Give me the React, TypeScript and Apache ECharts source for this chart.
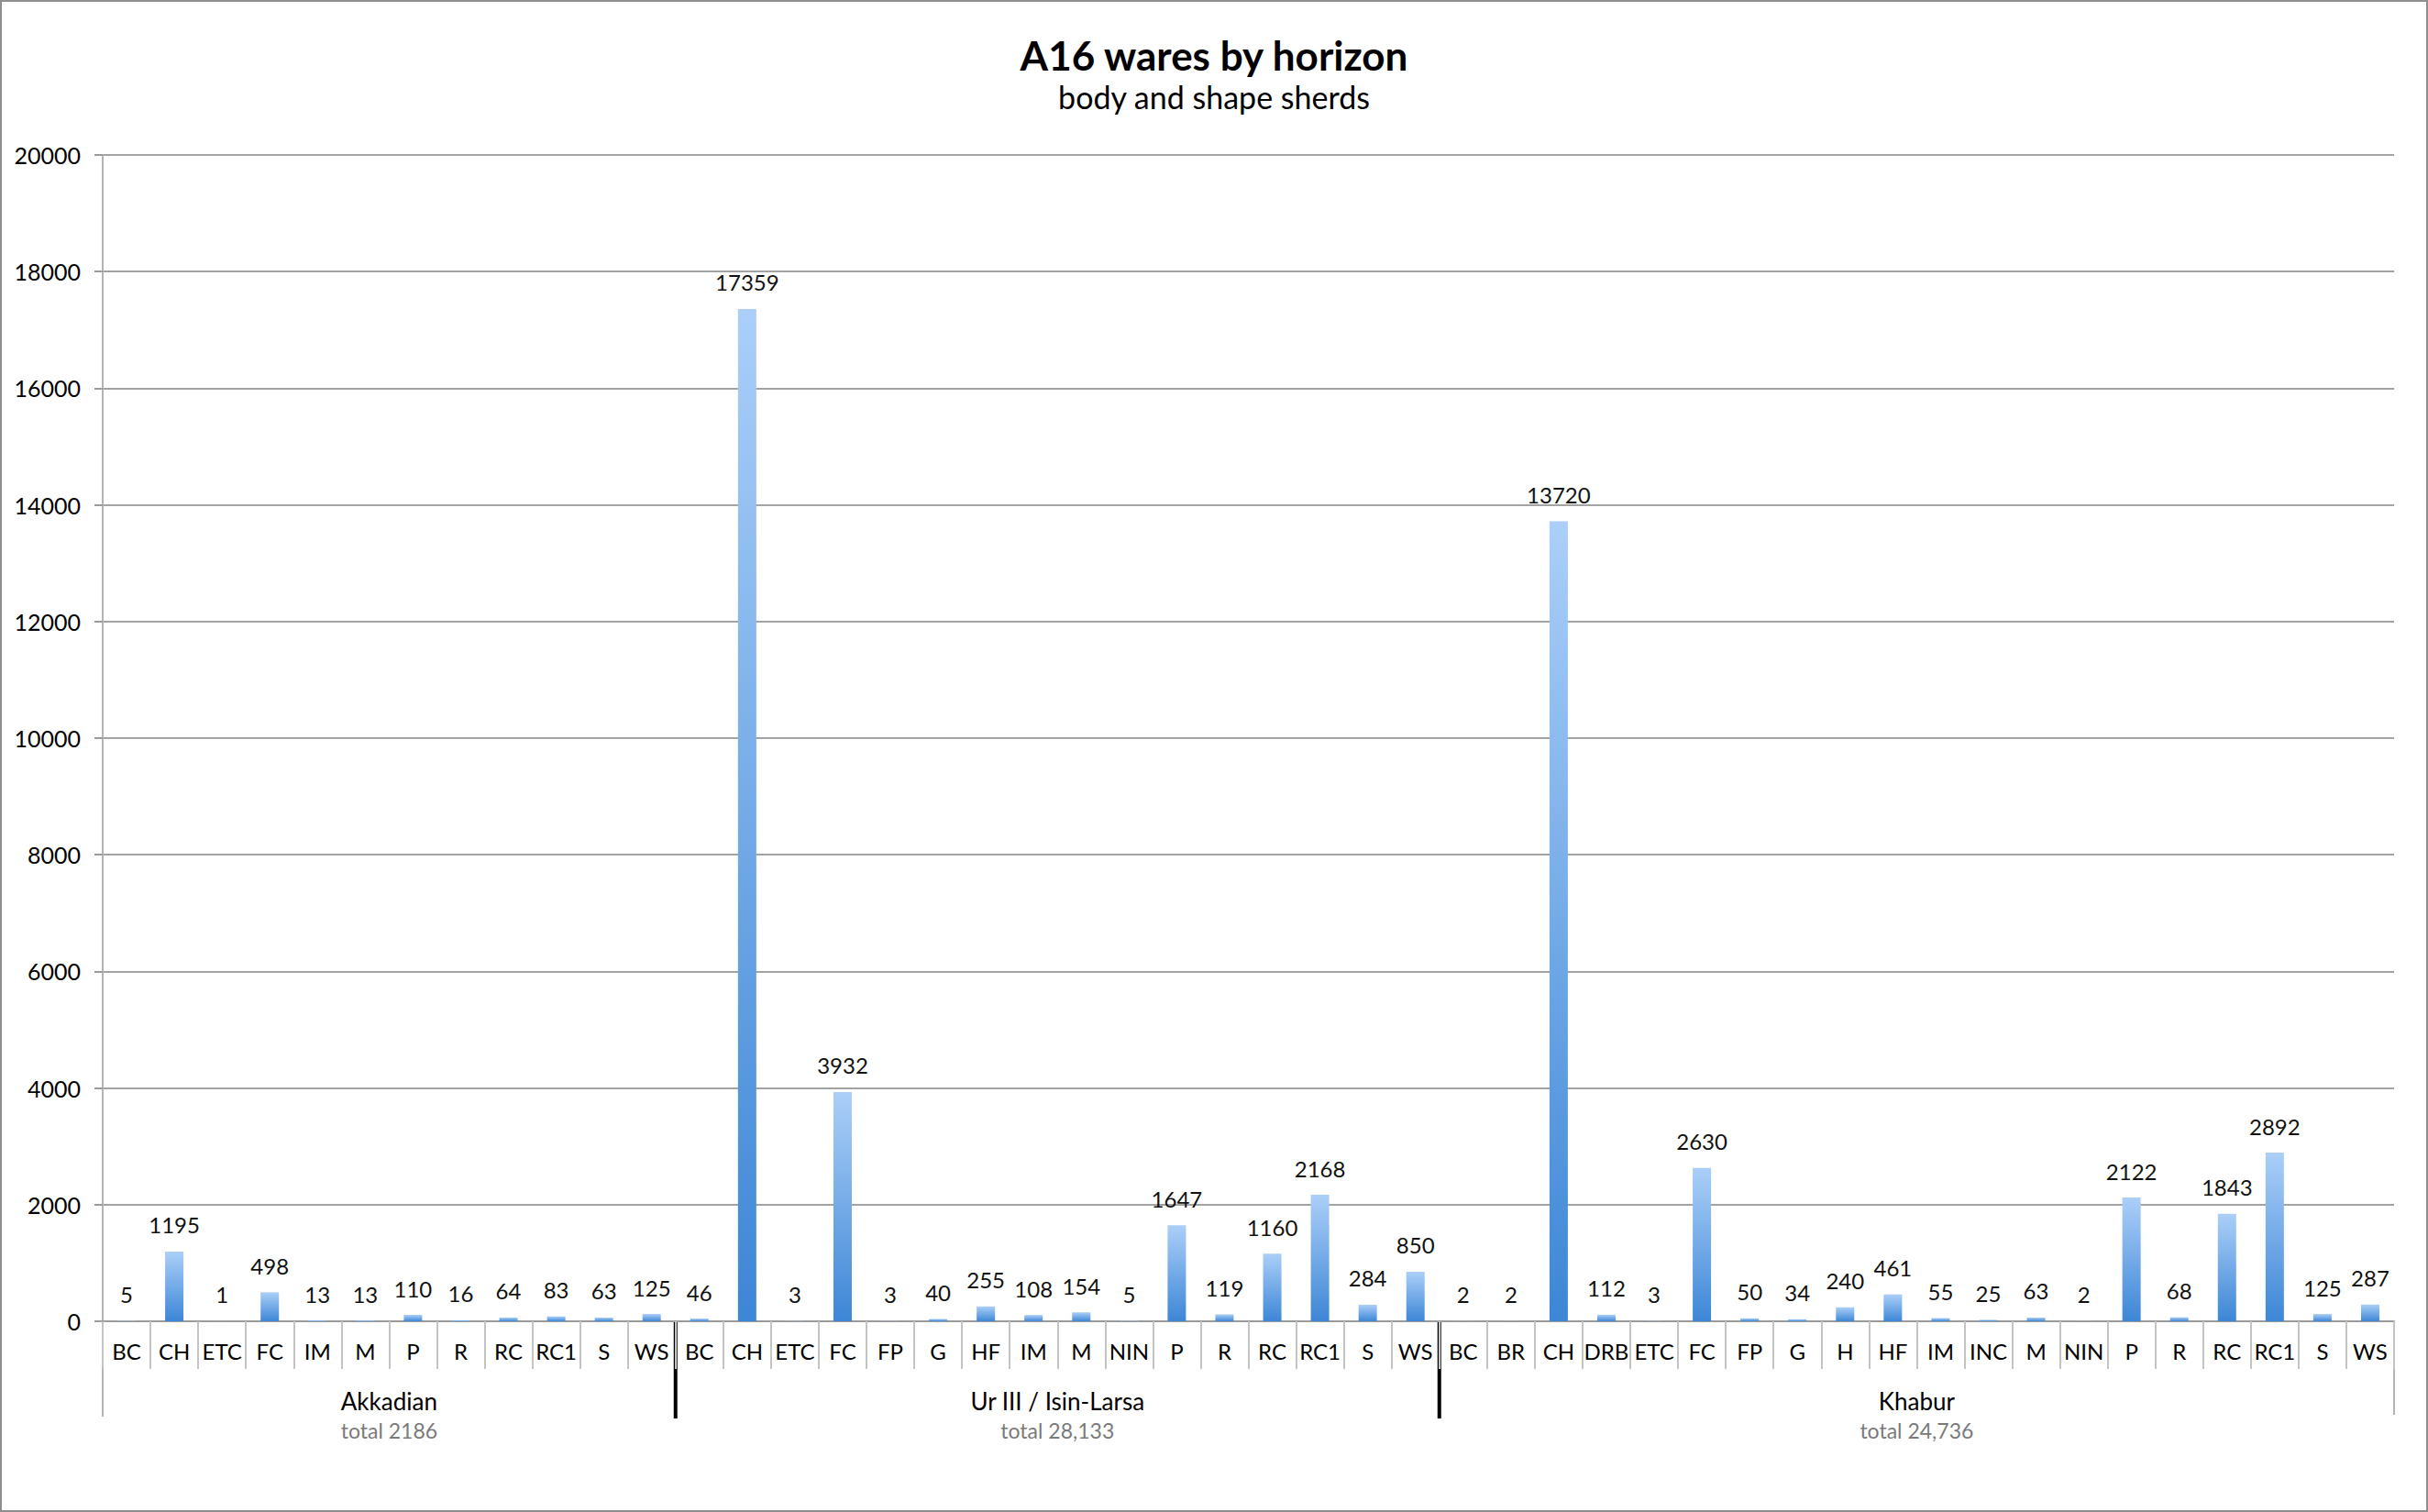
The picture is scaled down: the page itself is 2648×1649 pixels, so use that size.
import React, { useEffect, useRef } from "react";
import * as echarts from "echarts";

const akkadianWares = ["BC", "CH", "ETC", "FC", "IM", "M", "P", "R", "RC", "RC1", "S", "WS"];
const akkadianCounts = [5, 1195, 1, 498, 13, 13, 110, 16, 64, 83, 63, 125];

const urWares = ["BC", "CH", "ETC", "FC", "FP", "G", "HF", "IM", "M", "NIN", "P", "R", "RC", "RC1", "S", "WS"];
const urCounts = [46, 17359, 3, 3932, 3, 40, 255, 108, 154, 5, 1647, 119, 1160, 2168, 284, 850];

const khaburWares = ["BC", "BR", "CH", "DRB", "ETC", "FC", "FP", "G", "H", "HF", "IM", "INC", "M", "NIN", "P", "R", "RC", "RC1", "S", "WS"];
const khaburCounts = [2, 2, 13720, 112, 3, 2630, 50, 34, 240, 461, 55, 25, 63, 2, 2122, 68, 1843, 2892, 125, 287];

const horizonNames = ["Akkadian", "Ur III / Isin-Larsa", "Khabur"];
const horizonTotals = ["total 2186", "total 28,133", "total 24,736"];

const yMin = 0;
const yMax = 20000;
const yInterval = 2000;

const FONT = "Lato, 'Open Sans', sans-serif";

export default function App() {
  const ref = useRef<HTMLDivElement>(null);

  useEffect(() => {
    if (!ref.current) return;
    const chart = echarts.init(ref.current, null, { renderer: "svg" });
    const categories = [...akkadianWares, ...urWares, ...khaburWares];
    const values = [...akkadianCounts, ...urCounts, ...khaburCounts];
    const groupSizes = [akkadianWares.length, urWares.length, khaburWares.length];

    const option: any = {
      animation: false,
      backgroundColor: "#ffffff",
      textStyle: { fontFamily: FONT },
      title: {
        text: "A16 wares by horizon",
        subtext: "body and shape sherds",
        left: "center",
        top: 33,
        itemGap: 6,
        textStyle: { fontFamily: FONT, fontSize: 44, fontWeight: "bold", color: "#000" },
        subtextStyle: { fontFamily: FONT, fontSize: 34, color: "#000" },
      },
      grid: { left: 112, right: 37, top: 169, bottom: 208 },
      xAxis: {
        type: "category",
        data: categories,
        boundaryGap: true,
        axisLine: { show: true, lineStyle: { color: "#9a9a9a", width: 2 } },
        axisTick: { show: true, interval: 0, length: 52, lineStyle: { color: "#c4c4c4", width: 2 } },
        axisLabel: { interval: 0, margin: 20, fontSize: 24, color: "#000", fontFamily: FONT },
        splitLine: { show: false },
      },
      yAxis: {
        type: "value",
        min: yMin,
        max: yMax,
        interval: yInterval,
        axisLine: { show: true, lineStyle: { color: "#b4b4b4", width: 2 } },
        axisTick: { show: true, length: 9, lineStyle: { color: "#9a9a9a", width: 2 } },
        axisLabel: {
          fontSize: 25,
          color: "#000",
          margin: 24,
          fontFamily: FONT,
          formatter: (v: number) => String(v),
        },
        splitLine: { show: true, lineStyle: { color: "#a3a3a3", width: 2 } },
      },
      series: [
        {
          type: "bar",
          data: values,
          barWidth: 20,
          itemStyle: {
            color: new echarts.graphic.LinearGradient(0, 0, 0, 1, [
              { offset: 0, color: "#abcff8" },
              { offset: 1, color: "#3d86d6" },
            ]),
          },
          label: {
            show: true,
            position: "top",
            distance: 17,
            fontSize: 24,
            color: "#111",
            fontFamily: FONT,
          },
        },
      ],
    };
    chart.setOption(option);

    const c0 = chart.convertToPixel({ xAxisIndex: 0 }, 0) as number;
    const c1 = chart.convertToPixel({ xAxisIndex: 0 }, 1) as number;
    const w = c1 - c0;
    const edge = (i: number) => c0 - w / 2 + i * w;
    const y0 = chart.convertToPixel({ yAxisIndex: 0 }, 0) as number;
    const yTop = chart.convertToPixel({ yAxisIndex: 0 }, yMax) as number;
    const lineBottom = y0 + 104;

    const graphics: any[] = [
      {
        type: "rect",
        shape: { x: 1, y: 1, width: 2646, height: 1647 },
        style: { fill: "none", stroke: "#8e8e8e", lineWidth: 2 },
        silent: true,
      },
      {
        type: "line",
        shape: { x1: edge(0), y1: yTop, x2: edge(0), y2: lineBottom },
        style: { stroke: "#b4b4b4", lineWidth: 2 },
      },
      {
        type: "line",
        shape: { x1: edge(categories.length), y1: y0, x2: edge(categories.length), y2: lineBottom - 2 },
        style: { stroke: "#b4b4b4", lineWidth: 2 },
      },
    ];
    let start = 0;
    groupSizes.forEach((size, g) => {
      const end = start + size;
      if (g > 0) {
        graphics.push({
          type: "line",
          shape: { x1: edge(start), y1: y0 + 1, x2: edge(start), y2: lineBottom + 2 },
          style: { stroke: "#000", lineWidth: 4 },
        });
      }
      const cx = (edge(start) + edge(end)) / 2;
      graphics.push({
        type: "text",
        x: cx,
        y: y0 + 87,
        style: {
          text: horizonNames[g],
          fontSize: 26,
          fontFamily: FONT,
          fill: "#000",
          align: "center",
          verticalAlign: "middle",
        },
      });
      graphics.push({
        type: "text",
        x: cx,
        y: y0 + 119,
        style: {
          text: horizonTotals[g],
          fontSize: 23,
          fontFamily: FONT,
          fill: "#7a7a7a",
          align: "center",
          verticalAlign: "middle",
        },
      });
      start = end;
    });
    chart.setOption({ graphic: graphics });

    return () => chart.dispose();
  }, []);

  return (
    <div
      ref={ref}
      style={{ position: "fixed", left: 0, top: 0, width: 2648, height: 1649 }}
    />
  );
}
